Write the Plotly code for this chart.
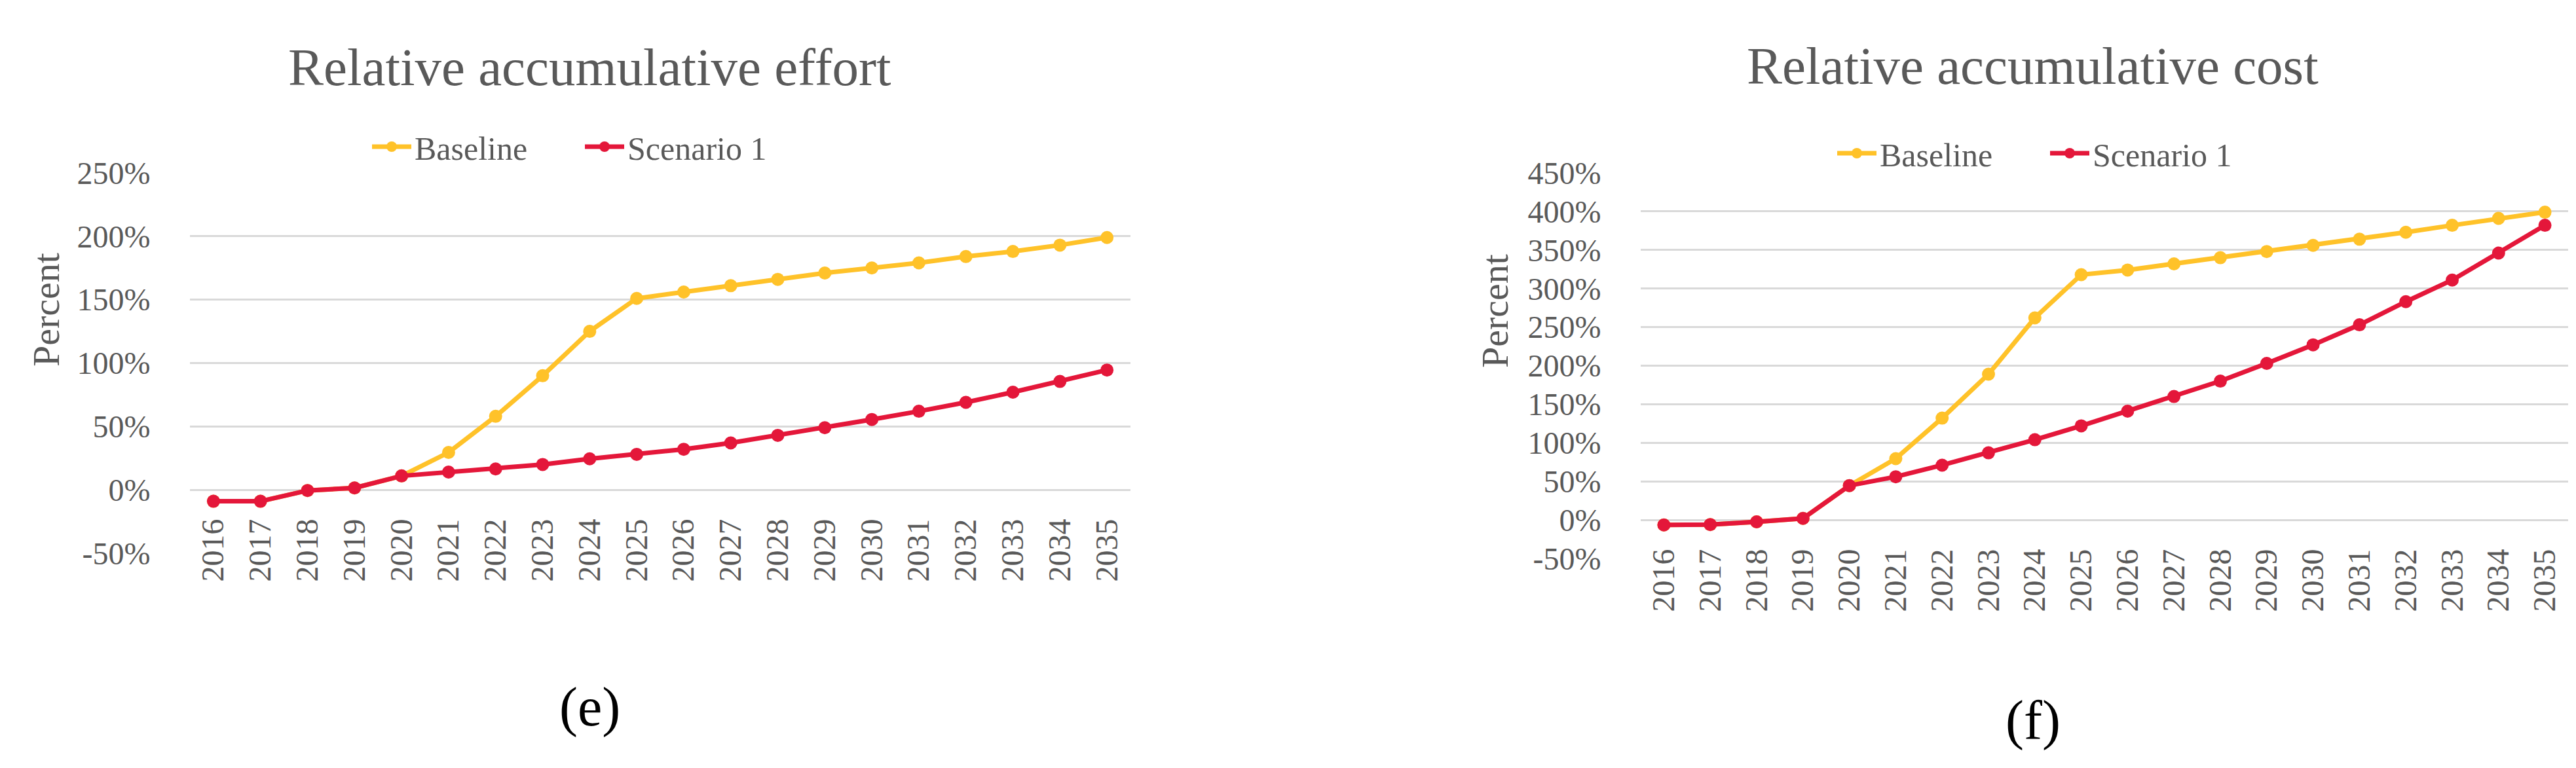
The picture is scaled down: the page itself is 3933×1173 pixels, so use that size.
import plotly.graph_objects as go

W, H = 3933, 1173

# ---------------- data ----------------
years = ["2016", "2017", "2018", "2019", "2020", "2021", "2022", "2023", "2024", "2025",
         "2026", "2027", "2028", "2029", "2030", "2031", "2032", "2033", "2034", "2035"]

effort_baseline = [-9, -9, -0.5, 1.5, 11, 29.5, 58, 90, 125, 151,
                   156, 161, 166, 171, 175, 179, 184, 188, 193, 199]
effort_scenario1 = [-9, -9, -0.5, 1.5, 11, 14, 16.5, 20, 24.5, 28,
                    32, 37, 43, 49, 55.5, 62, 69, 77, 85.5, 94.5]

cost_baseline = [-6.5, -6, -2.5, 2, 44.5, 79.5, 132, 189, 262, 318,
                 324, 332, 340, 348, 356, 364, 373, 382, 391, 399]
cost_scenario1 = [-6.5, -6, -2.5, 2, 44.5, 56, 71, 87, 104, 122,
                  141, 160, 180, 203, 227, 253, 283, 311, 346, 382]

effort_ticks = [-50, 0, 50, 100, 150, 200, 250]
effort_ticktext = ["-50%", "0%", "50%", "100%", "150%", "200%", "250%"]
cost_ticks = [-50, 0, 50, 100, 150, 200, 250, 300, 350, 400, 450]
cost_ticktext = ["-50%", "0%", "50%", "100%", "150%", "200%", "250%", "300%", "350%", "400%", "450%"]

series_names = ["Baseline", "Scenario 1"]
titles = ["Relative accumulative effort", "Relative accumulative cost"]
panel_labels = ["(e)", "(f)"]
y_title = "Percent"

# ---------------- style ----------------
YELLOW = "#FFC229"
RED = "#E4173A"
GREY = "#595959"
GRID = "#D9D9D9"
FONT = "Liberation Serif"


def px_x(p):
    return p / W


def px_y(p):
    return (H - p) / H


fig = go.Figure()

for i, (b, s) in enumerate([(effort_baseline, effort_scenario1), (cost_baseline, cost_scenario1)]):
    xa = "x" if i == 0 else "x2"
    ya = "y" if i == 0 else "y2"
    lg = "legend" if i == 0 else "legend2"
    for name, vals, col in [(series_names[0], b, YELLOW), (series_names[1], s, RED)]:
        fig.add_trace(go.Scatter(
            x=years, y=vals, name=name, mode="lines+markers",
            line=dict(color=col, width=7),
            marker=dict(color=col, size=20, symbol="circle"),
            xaxis=xa, yaxis=ya, legend=lg,
        ))

common_x = dict(type="category", showgrid=False, zeroline=False, showline=False,
                ticks="", tickangle=-90, tickfont=dict(family=FONT, size=48, color=GREY),
                anchor="free", range=[-0.5, 19.5], automargin=False)
common_y = dict(showgrid=True, gridcolor=GRID, gridwidth=3, zeroline=False, showline=False,
                ticks="outside", ticklen=50, tickcolor="rgba(0,0,0,0)",
                tickmode="array", tickfont=dict(family=FONT, size=48, color=GREY),
                automargin=False)

legend_common = dict(orientation="h", xanchor="left", yanchor="middle",
                     font=dict(family=FONT, size=50, color=GREY), bgcolor="rgba(0,0,0,0)",
                     itemwidth=60, traceorder="normal", entrywidth=250, entrywidthmode="pixels")

fig.update_layout(
    template="none",
    width=W, height=H,
    margin=dict(l=0, r=0, t=0, b=0, autoexpand=False),
    paper_bgcolor="white", plot_bgcolor="white",
    font=dict(family=FONT, color=GREY),
    xaxis=dict(common_x, domain=[px_x(282), px_x(1718)], position=px_y(774)),
    yaxis=dict(common_y, domain=[px_y(837), px_y(256)], range=[-50, 250], anchor="x",
               tickvals=effort_ticks, ticktext=effort_ticktext),
    xaxis2=dict(common_x, domain=[px_x(2497), px_x(3913)], position=px_y(820)),
    yaxis2=dict(common_y, domain=[px_y(845), px_y(256)], range=[-50, 450], anchor="x2",
                tickvals=cost_ticks, ticktext=cost_ticktext),
    legend=dict(legend_common, x=px_x(555), y=px_y(216)),
    legend2=dict(legend_common, x=px_x(2792), y=px_y(226)),
    showlegend=True,
)

annotations = [
    dict(text=titles[0], x=px_x(892), y=px_y(95), xref="paper", yref="paper",
         showarrow=False, font=dict(family=FONT, size=81, color=GREY), xanchor="center", yanchor="middle"),
    dict(text=titles[1], x=px_x(3095), y=px_y(93), xref="paper", yref="paper",
         showarrow=False, font=dict(family=FONT, size=81, color=GREY), xanchor="center", yanchor="middle"),
    dict(text=y_title, x=px_x(62), y=px_y(465), xref="paper", yref="paper", textangle=-90,
         showarrow=False, font=dict(family=FONT, size=58, color=GREY), xanchor="center", yanchor="middle"),
    dict(text=y_title, x=px_x(2274), y=px_y(467), xref="paper", yref="paper", textangle=-90,
         showarrow=False, font=dict(family=FONT, size=58, color=GREY), xanchor="center", yanchor="middle"),
    dict(text=panel_labels[0], x=px_x(892), y=px_y(1072), xref="paper", yref="paper",
         showarrow=False, font=dict(family=FONT, size=84, color="black"), xanchor="center", yanchor="middle"),
    dict(text=panel_labels[1], x=px_x(3096), y=px_y(1092), xref="paper", yref="paper",
         showarrow=False, font=dict(family=FONT, size=84, color="black"), xanchor="center", yanchor="middle"),
]
fig.update_layout(annotations=annotations)

fig.write_html("out.html")
